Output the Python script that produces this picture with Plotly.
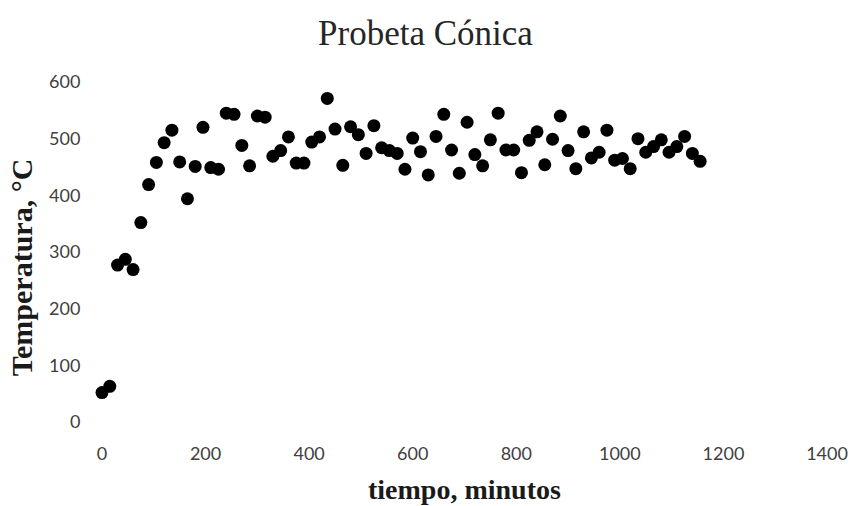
import plotly.graph_objects as go

tiempo = [0, 15, 30, 45, 60, 75, 90, 105, 120, 135, 150, 165, 180, 195, 210, 225,
          240, 255, 270, 285, 300, 315, 330, 345, 360, 375, 390, 405, 420, 435,
          450, 465, 480, 495, 510, 525, 540, 555, 570, 585, 600, 615, 630, 645,
          660, 675, 690, 705, 720, 735, 750, 765, 780, 795, 810, 825, 840, 855,
          870, 885, 900, 915, 930, 945, 960, 975, 990, 1005, 1020, 1035, 1050,
          1065, 1080, 1095, 1110, 1125, 1140, 1155]
temperatura = [52, 63, 277, 287, 269, 352, 419, 458, 493, 515, 459, 394, 451, 520,
               449, 446, 545, 543, 488, 452, 540, 538, 469, 479, 503, 457, 457, 494,
               503, 571, 517, 453, 521, 507, 474, 523, 484, 479, 474, 446, 501, 477,
               436, 504, 543, 480, 439, 529, 472, 452, 498, 545, 480, 480, 440, 497,
               512, 454, 499, 540, 479, 447, 512, 466, 476, 515, 462, 465, 447, 500,
               476, 486, 498, 476, 486, 504, 474, 460]

x_ticks = [0, 200, 400, 600, 800, 1000, 1200, 1400]
y_ticks = [0, 100, 200, 300, 400, 500, 600]

fig = go.Figure()
fig.add_trace(go.Scatter(
    x=tiempo, y=temperatura, mode="markers",
    marker=dict(color="black", size=13),
    cliponaxis=False, showlegend=False,
))

tick_font = dict(family="Lato, Open Sans, sans-serif", size=18, color="#404040")
serif = "Liberation Serif, Times New Roman, serif"

fig.update_layout(
    width=851, height=506,
    margin=dict(l=102, r=24, t=82, b=84),
    paper_bgcolor="white", plot_bgcolor="white",
    title=dict(text="Probeta Cónica", x=0.5, xref="container", y=0.935, yref="container",
               xanchor="center", yanchor="middle",
               font=dict(family=serif, size=35, color="#262626")),
    xaxis=dict(range=[0, 1400], tickvals=x_ticks, ticktext=[str(v) for v in x_ticks],
               showgrid=False, zeroline=False, showline=False, automargin=False,
               ticks="outside", ticklen=15, tickcolor="rgba(0,0,0,0)",
               tickfont=tick_font),
    yaxis=dict(range=[0, 600], tickvals=y_ticks, ticktext=[str(v) for v in y_ticks],
               showgrid=False, zeroline=False, showline=False, automargin=False,
               ticks="outside", ticklen=17, tickcolor="rgba(0,0,0,0)",
               tickfont=tick_font),
    annotations=[
        dict(text="<b>tiempo, minutos</b>", xref="paper", yref="paper",
             x=0.5, y=-0.198, xanchor="center", yanchor="middle", showarrow=False,
             font=dict(family=serif, size=28, color="#1a1a1a")),
        dict(text="<b>Temperatura, °C</b>", xref="paper", yref="paper",
             x=-0.11, y=0.456, xanchor="center", yanchor="middle", showarrow=False,
             textangle=-90,
             font=dict(family=serif, size=30, color="#1a1a1a")),
    ],
)

fig.write_html("out.html")
